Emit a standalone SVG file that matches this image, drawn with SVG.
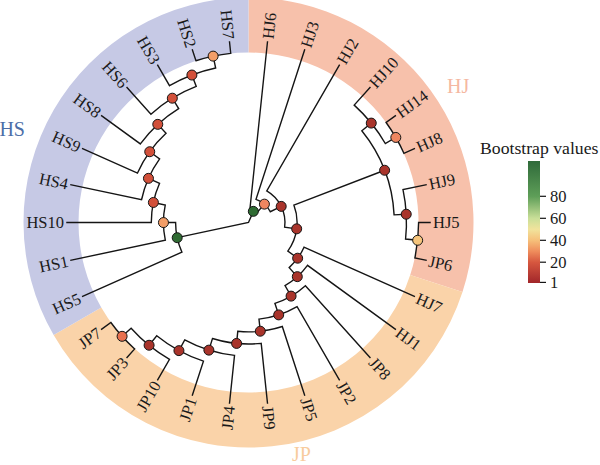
<svg xmlns="http://www.w3.org/2000/svg" width="600" height="465" viewBox="0 0 600 465">
<style>
.br{fill:none;stroke:#151515;stroke-width:1.4;stroke-linejoin:miter}
.lab{font-family:"Liberation Serif","Times New Roman",serif;font-size:16.5px;fill:#1a1a1a}
.l{text-anchor:end}
.nd{stroke:#151515;stroke-width:1}
.g{fill:#2f6b33}.o{fill:#f39e68}.o2{fill:#ee8660}.y{fill:#f6c57c}.hr{fill:#d2503a}.dr{fill:#a9342b}
.grp{font-family:"Liberation Serif","Times New Roman",serif;font-size:20px}
.tk{stroke:#151515;stroke-width:1.2}
.tl{font-family:"Liberation Serif","Times New Roman",serif;font-size:16.5px;fill:#1a1a1a}
</style>
<defs>
<linearGradient id="bs" x1="0" y1="0" x2="0" y2="1">
<stop offset="0" stop-color="#2f6a3a"/>
<stop offset="0.29" stop-color="#5e9e58"/>
<stop offset="0.47" stop-color="#c9df98"/>
<stop offset="0.56" stop-color="#f1e39c"/>
<stop offset="0.65" stop-color="#f6c07a"/>
<stop offset="0.74" stop-color="#ef8d5c"/>
<stop offset="0.83" stop-color="#d6573f"/>
<stop offset="1" stop-color="#a1262a"/>
</linearGradient>
</defs>
<rect width="600" height="465" fill="#ffffff"/>
<g id="ring" transform="translate(248.5,222.5)">
<path d="M0,-225 A225,225 0 0 1 213.99,69.53 L161.68,52.53 A170,170 0 0 0 0,-170 Z" fill="#f7c1ab"/>
<path d="M213.99,69.53 A225,225 0 0 1 -194.86,112.5 L-147.22,85 A170,170 0 0 0 161.68,52.53 Z" fill="#fad3a9"/>
<path d="M-194.86,112.5 A225,225 0 0 1 0,-225 L0,-170 A170,170 0 0 0 -147.22,85 Z" fill="#c6c9e5"/>
</g>
<g id="group-labels">
<text class="grp" x="25" y="136" text-anchor="end" fill="#4b6ea8">HS</text>
<text class="grp" x="447" y="93" fill="#f5b8a2">HJ</text>
<text class="grp" x="292" y="461" fill="#f8cc9e">JP</text>
</g>
<g id="connectors" transform="translate(248.5,222.5)">
<path class="br" d="M-71.3,15.19 L0,0 L4.83,-11.15"/>
<path class="br" d="M19.05,-181.25 L1.27,-12.08 A12.15,12.15 0 0 1 7.95,-9.19 L15.9,-18.37"/>
<path class="br" d="M56.32,-173.33 L7.51,-23.11 A24.3,24.3 0 0 1 21.79,-10.75 L32.69,-16.12"/>
<path class="br" d="M91.13,-157.83 L18.23,-31.57 A36.45,36.45 0 0 1 36.14,4.76 L48.18,6.34"/>
<path class="br" d="M136.12,-52.25 L45.37,-17.42 A48.6,48.6 0 0 1 39.32,28.56 L49.15,35.7"/>
<path class="br" d="M166.49,74.13 L55.5,24.71 A60.75,60.75 0 0 1 40.67,45.13 L48.8,54.16"/>
<path class="br" d="M147.44,107.12 L58.98,42.85 A72.9,72.9 0 0 1 36.5,63.1 L42.59,73.62"/>
<path class="br" d="M121.95,135.44 L56.91,63.2 A85.05,85.05 0 0 1 26.41,80.84 L30.19,92.39"/>
<path class="br" d="M91.13,157.83 L48.6,84.18 A97.2,97.2 0 0 1 10.48,96.63 L11.79,108.71"/>
<path class="br" d="M56.32,173.33 L33.79,104 A109.35,109.35 0 0 1 -10.72,108.82 L-11.91,120.92"/>
<path class="br" d="M19.05,181.25 L12.7,120.83 A121.5,121.5 0 0 1 -36.03,116.04 L-39.63,127.64"/>
<path class="br" d="M-19.05,181.25 L-13.97,132.92 A133.65,133.65 0 0 1 -63.77,117.45 L-69.57,128.13"/>
<path class="br" d="M-56.32,173.33 L-45.06,138.66 A145.8,145.8 0 0 1 -91.76,113.31 L-99.4,122.75"/>
<path class="br" d="M-91.13,157.83 L-78.98,136.79 A157.95,157.95 0 0 1 -117.38,105.69 L-126.41,113.82"/>
<path class="br" d="M-121.95,135.44 L-113.82,126.41 A170.1,170.1 0 0 1 -137.61,99.98 L-147.44,107.12"/>
<path class="br" d="M122.75,-99.4 L113.31,-91.76 A145.8,145.8 0 0 1 145.6,-7.63 L157.73,-8.27"/>
<path class="br" d="M121.95,-135.44 L105.69,-117.38 A157.95,157.95 0 0 1 136.79,-78.98 L147.31,-85.05"/>
<path class="br" d="M147.44,-107.12 L137.61,-99.98 A170.1,170.1 0 0 1 155.39,-69.19 L166.49,-74.13"/>
<path class="br" d="M178.27,-37.89 L154.5,-32.84 A157.95,157.95 0 0 1 157.08,16.51 L169.17,17.78"/>
<path class="br" d="M182.25,0 L170.1,0 A170.1,170.1 0 0 1 166.38,35.37 L178.27,37.89"/>
<path class="br" d="M-166.49,74.13 L-66.6,29.65 A72.9,72.9 0 0 1 -72.9,0.06 L-85.05,0.07"/>
<path class="br" d="M-178.27,37.89 L-83.19,17.68 A85.05,85.05 0 0 1 -83.22,-17.55 L-95.11,-20.05"/>
<path class="br" d="M-182.25,0 L-97.2,0 A97.2,97.2 0 0 1 -88.93,-39.24 L-100.04,-44.14"/>
<path class="br" d="M-178.27,-37.89 L-106.96,-22.74 A109.35,109.35 0 0 1 -88.89,-63.69 L-98.76,-70.77"/>
<path class="br" d="M-166.49,-74.13 L-111,-49.42 A121.5,121.5 0 0 1 -82.47,-89.22 L-90.72,-98.14"/>
<path class="br" d="M-147.44,-107.12 L-108.13,-78.56 A133.65,133.65 0 0 1 -69.83,-113.96 L-76.18,-124.31"/>
<path class="br" d="M-121.95,-135.44 L-97.56,-108.35 A145.8,145.8 0 0 1 -52.25,-136.12 L-56.6,-147.46"/>
<path class="br" d="M-91.13,-157.83 L-78.98,-136.79 A157.95,157.95 0 0 1 -32.84,-154.5 L-35.37,-166.38"/>
<path class="br" d="M-56.32,-173.33 L-52.56,-161.78 A170.1,170.1 0 0 1 -17.78,-169.17 L-19.05,-181.25"/>
</g>
<g id="internal-nodes" transform="translate(248.5,222.5)">
<g id="n1"><circle class="nd g" cx="4.83" cy="-11.15" r="5"/></g>
<g id="n2"><circle class="nd o2" cx="15.9" cy="-18.37" r="5"/></g>
<g id="n3"><circle class="nd dr" cx="32.69" cy="-16.12" r="5"/></g>
<g id="n4"><circle class="nd dr" cx="48.18" cy="6.34" r="5"/></g>
<g id="n5"><circle class="nd dr" cx="49.15" cy="35.7" r="5"/></g>
<g id="n6"><circle class="nd dr" cx="48.8" cy="54.16" r="5"/></g>
<g id="n7"><circle class="nd dr" cx="42.59" cy="73.62" r="5"/></g>
<g id="n8"><circle class="nd dr" cx="30.19" cy="92.39" r="5"/></g>
<g id="n9"><circle class="nd dr" cx="11.79" cy="108.71" r="5"/></g>
<g id="n10"><circle class="nd dr" cx="-11.91" cy="120.92" r="5"/></g>
<g id="n11"><circle class="nd dr" cx="-39.63" cy="127.64" r="5"/></g>
<g id="n12"><circle class="nd dr" cx="-69.57" cy="128.13" r="5"/></g>
<g id="n13"><circle class="nd dr" cx="-99.4" cy="122.75" r="5"/></g>
<g id="n14"><circle class="nd" cx="-126.41" cy="113.82" r="5" fill="#e8704f"/></g>
<g id="h12"><circle class="nd dr" cx="136.12" cy="-52.25" r="5"/></g>
<g id="h13a"><circle class="nd dr" cx="122.75" cy="-99.4" r="5"/></g>
<g id="h14"><circle class="nd o2" cx="147.31" cy="-85.05" r="5"/></g>
<g id="h13b"><circle class="nd dr" cx="157.73" cy="-8.27" r="5"/></g>
<g id="h14b"><circle class="nd y" cx="169.17" cy="17.78" r="5"/></g>
<g id="s6"><circle class="nd g" cx="-71.3" cy="15.19" r="5"/></g>
<g id="s7"><circle class="nd o" cx="-85.05" cy="0.07" r="5"/></g>
<g id="s8"><circle class="nd hr" cx="-95.11" cy="-20.05" r="5"/></g>
<g id="s9"><circle class="nd hr" cx="-100.04" cy="-44.14" r="5"/></g>
<g id="s10"><circle class="nd hr" cx="-98.76" cy="-70.77" r="5"/></g>
<g id="s11"><circle class="nd hr" cx="-90.72" cy="-98.14" r="5"/></g>
<g id="s12"><circle class="nd hr" cx="-76.18" cy="-124.31" r="5"/></g>
<g id="s13"><circle class="nd hr" cx="-56.6" cy="-147.46" r="5"/></g>
<g id="s14"><circle class="nd o" cx="-35.37" cy="-166.38" r="5"/></g>
</g>
<g id="leaves" transform="translate(248.5,222.5)">
<g id="leaf-HJ6"><text class="lab" transform="rotate(-84) translate(184.5,0)" dy="0.35em">HJ6</text></g>
<g id="leaf-HJ3"><text class="lab" transform="rotate(-72) translate(184.5,0)" dy="0.35em">HJ3</text></g>
<g id="leaf-HJ2"><text class="lab" transform="rotate(-60) translate(184.5,0)" dy="0.35em">HJ2</text></g>
<g id="leaf-HJ10"><text class="lab" transform="rotate(-48) translate(184.5,0)" dy="0.35em">HJ10</text></g>
<g id="leaf-HJ14"><text class="lab" transform="rotate(-36) translate(184.5,0)" dy="0.35em">HJ14</text></g>
<g id="leaf-HJ8"><text class="lab" transform="rotate(-24) translate(184.5,0)" dy="0.35em">HJ8</text></g>
<g id="leaf-HJ9"><text class="lab" transform="rotate(-12) translate(184.5,0)" dy="0.35em">HJ9</text></g>
<g id="leaf-HJ5"><text class="lab" transform="rotate(0) translate(184.5,0)" dy="0.35em">HJ5</text></g>
<g id="leaf-JP6"><text class="lab" transform="rotate(12) translate(184.5,0)" dy="0.35em">JP6</text></g>
<g id="leaf-HJ7"><text class="lab" transform="rotate(24) translate(184.5,0)" dy="0.35em">HJ7</text></g>
<g id="leaf-HJ1"><text class="lab" transform="rotate(36) translate(184.5,0)" dy="0.35em">HJ1</text></g>
<g id="leaf-JP8"><text class="lab" transform="rotate(48) translate(184.5,0)" dy="0.35em">JP8</text></g>
<g id="leaf-JP2"><text class="lab" transform="rotate(60) translate(184.5,0)" dy="0.35em">JP2</text></g>
<g id="leaf-JP5"><text class="lab" transform="rotate(72) translate(184.5,0)" dy="0.35em">JP5</text></g>
<g id="leaf-JP9"><text class="lab" transform="rotate(84) translate(184.5,0)" dy="0.35em">JP9</text></g>
<g id="leaf-JP4"><text class="lab l" transform="rotate(96) translate(184.5,0) rotate(180)" dy="0.35em">JP4</text></g>
<g id="leaf-JP1"><text class="lab l" transform="rotate(108) translate(184.5,0) rotate(180)" dy="0.35em">JP1</text></g>
<g id="leaf-JP10"><text class="lab l" transform="rotate(120) translate(184.5,0) rotate(180)" dy="0.35em">JP10</text></g>
<g id="leaf-JP3"><text class="lab l" transform="rotate(132) translate(184.5,0) rotate(180)" dy="0.35em">JP3</text></g>
<g id="leaf-JP7"><text class="lab l" transform="rotate(144) translate(184.5,0) rotate(180)" dy="0.35em">JP7</text></g>
<g id="leaf-HS5"><text class="lab l" transform="rotate(156) translate(184.5,0) rotate(180)" dy="0.35em">HS5</text></g>
<g id="leaf-HS1"><text class="lab l" transform="rotate(168) translate(184.5,0) rotate(180)" dy="0.35em">HS1</text></g>
<g id="leaf-HS10"><text class="lab l" transform="rotate(180) translate(184.5,0) rotate(180)" dy="0.35em">HS10</text></g>
<g id="leaf-HS4"><text class="lab l" transform="rotate(192) translate(184.5,0) rotate(180)" dy="0.35em">HS4</text></g>
<g id="leaf-HS9"><text class="lab l" transform="rotate(204) translate(184.5,0) rotate(180)" dy="0.35em">HS9</text></g>
<g id="leaf-HS8"><text class="lab l" transform="rotate(216) translate(184.5,0) rotate(180)" dy="0.35em">HS8</text></g>
<g id="leaf-HS6"><text class="lab l" transform="rotate(228) translate(184.5,0) rotate(180)" dy="0.35em">HS6</text></g>
<g id="leaf-HS3"><text class="lab l" transform="rotate(240) translate(184.5,0) rotate(180)" dy="0.35em">HS3</text></g>
<g id="leaf-HS2"><text class="lab l" transform="rotate(252) translate(184.5,0) rotate(180)" dy="0.35em">HS2</text></g>
<g id="leaf-HS7"><text class="lab l" transform="rotate(264) translate(184.5,0) rotate(180)" dy="0.35em">HS7</text></g>
</g>
<g id="legend">
<text x="480" y="154" font-family="Liberation Serif, Times New Roman, serif" font-size="17.7" fill="#1a1a1a">Bootstrap values</text>
<rect x="528" y="161" width="12" height="122" fill="url(#bs)"/>
<line class="tk" x1="540" y1="196.3" x2="546" y2="196.3"/>
<line class="tk" x1="540" y1="218.3" x2="546" y2="218.3"/>
<line class="tk" x1="540" y1="240.3" x2="546" y2="240.3"/>
<line class="tk" x1="540" y1="262.2" x2="546" y2="262.2"/>
<line class="tk" x1="540" y1="282.4" x2="546" y2="282.4"/>
<text class="tl" x="550" y="196.3" dy="0.35em">80</text>
<text class="tl" x="550" y="218.3" dy="0.35em">60</text>
<text class="tl" x="550" y="240.3" dy="0.35em">40</text>
<text class="tl" x="550" y="262.2" dy="0.35em">20</text>
<text class="tl" x="550" y="282.4" dy="0.35em">1</text>
</g>
</svg>
